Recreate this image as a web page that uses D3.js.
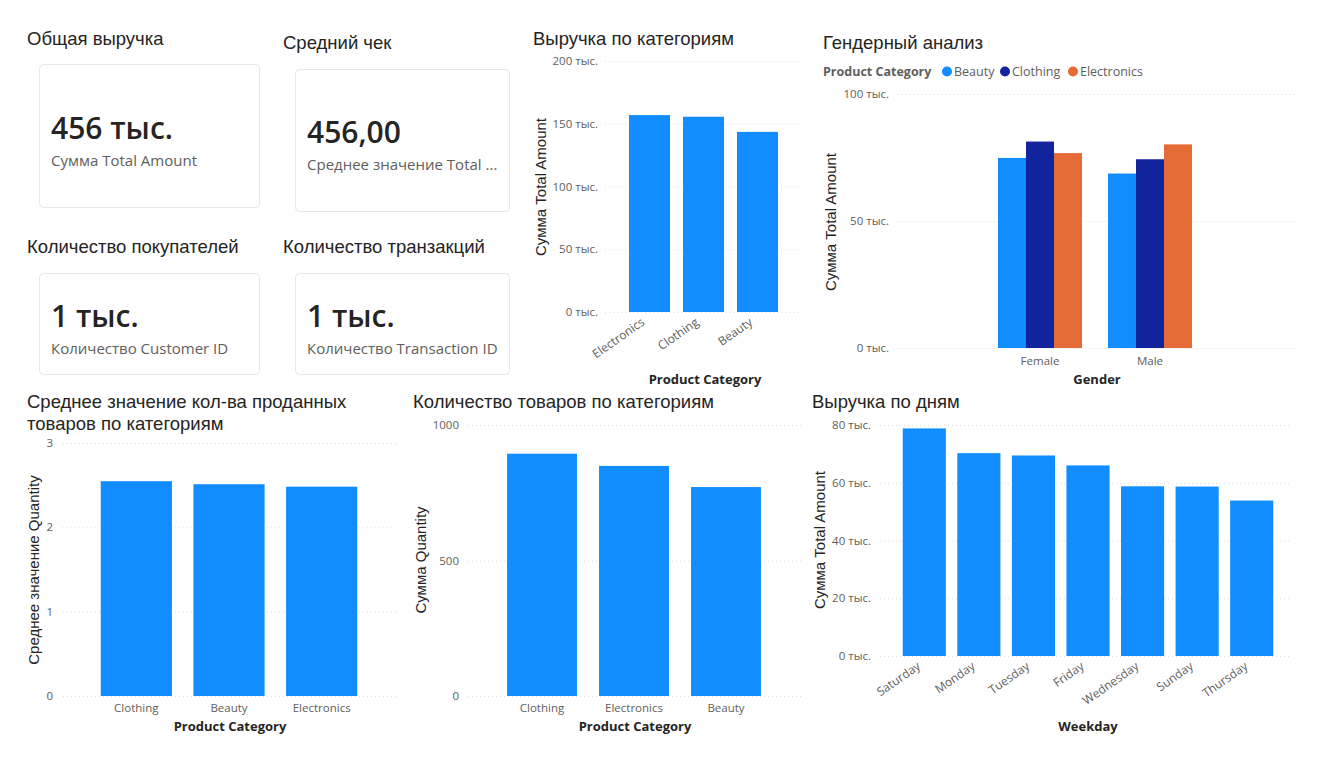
<!DOCTYPE html>
<html>
<head>
<meta charset="utf-8">
<script src="https://cdn.jsdelivr.net/npm/d3@7"></script>
<style>
  body { margin: 0; background: #fff; }
  svg { display: block; }
  .title { font-family: "Liberation Sans", Arial, sans-serif; font-size: 18.5px; fill: #252423; }
  .tick-lbl { font-family: "Open Sans", sans-serif; font-size: 11.5px; fill: #605e5c; }
  .ytitle { font-family: "Liberation Sans", Arial, sans-serif; font-size: 15px; fill: #252423; }
  .xtitle { font-family: "Open Sans", sans-serif; font-size: 13px; font-weight: 700; fill: #252423; }
</style>
</head>
<body>
<div id="scene"></div>
<script>
// ---- data ----
const cards = [
  { title: "Общая выручка", value: "456 тыс.", label: "Сумма Total Amount" },
  { title: "Средний чек", value: "456,00", label: "Среднее значение Total ..." },
  { title: "Количество покупателей", value: "1 тыс.", label: "Количество Customer ID" },
  { title: "Количество транзакций", value: "1 тыс.", label: "Количество Transaction ID" }
];

const revCategories = ["Electronics", "Clothing", "Beauty"];
const revValues = [156905, 155580, 143515];

const genders = ["Female", "Male"];
const genderSeries = ["Beauty", "Clothing", "Electronics"];
const genderValues = {
  Female: [74830, 81275, 76735],
  Male: [68685, 74305, 80170]
};
const seriesColors = ["#118DFF", "#12239E", "#E66C37"];

const avgQtyCategories = ["Clothing", "Beauty", "Electronics"];
const avgQtyValues = [2.547, 2.511, 2.482];

const qtyCategories = ["Clothing", "Electronics", "Beauty"];
const qtyValues = [894, 849, 771];

const weekdays = ["Saturday", "Monday", "Tuesday", "Friday", "Wednesday", "Sunday", "Thursday"];
const weekdayValues = [78815, 70250, 69440, 66010, 58770, 58680, 53835];

const thFmt = d => (d / 1000) + " тыс.";

const svg = d3.select("#scene").append("svg")
  .attr("width", 1319)
  .attr("height", 758);

// ---- cards ----
const cardBoxes = [
  { tx: 27, ty: 45, x: 39, y: 64, w: 220, h: 143, vy: 139, ly: 166 },
  { tx: 283, ty: 49, x: 295, y: 69, w: 214, h: 142, vy: 143, ly: 170 },
  { tx: 27, ty: 253, x: 39, y: 273, w: 220, h: 101, vy: 327, ly: 354 },
  { tx: 283, ty: 253, x: 295, y: 273, w: 214, h: 101, vy: 327, ly: 354 }
];

cards.forEach((c, i) => {
  const b = cardBoxes[i];
  svg.append("text").attr("class", "title").attr("x", b.tx).attr("y", b.ty).text(c.title);
  svg.append("rect")
    .attr("x", b.x + 0.5).attr("y", b.y + 0.5)
    .attr("width", b.w).attr("height", b.h)
    .attr("rx", 4)
    .style("fill", "#fff")
    .style("stroke", "#e6e6e6");
  svg.append("text")
    .attr("x", b.x + 12).attr("y", b.vy)
    .style("font-family", "'Open Sans', sans-serif")
    .style("font-weight", 600)
    .style("font-size", "30px")
    .style("fill", "#252423")
    .text(c.value);
  svg.append("text")
    .attr("x", b.x + 12).attr("y", b.ly)
    .style("font-family", "'Open Sans', sans-serif")
    .style("font-size", "15px")
    .style("fill", "#605e5c")
    .text(c.label);
});

// ---- generic bar chart ----
function barChart(cfg) {
  const g = svg.append("g");
  const x = d3.scaleBand().domain(cfg.cats).range(cfg.xRange)
    .paddingInner(cfg.pad).paddingOuter(cfg.pad / 2);
  const y = d3.scaleLinear().domain(cfg.yDomain).range(cfg.yRange);

  // title
  cfg.title.forEach((t, i) => {
    g.append("text").attr("class", "title")
      .attr("x", cfg.titleX).attr("y", cfg.titleY + i * 22).text(t);
  });

  // gridlines + tick labels
  cfg.ticks.forEach(t => {
    g.append("line")
      .attr("x1", cfg.gridX[0]).attr("x2", cfg.gridX[1])
      .attr("y1", y(t) + 0.5).attr("y2", y(t) + 0.5)
      .style("stroke", "#dcdcdc")
      .style("stroke-dasharray", "1,3");
    g.append("text").attr("class", "tick-lbl")
      .attr("x", cfg.tickX).attr("y", y(t) + 4)
      .style("text-anchor", "end")
      .text(cfg.fmt(t));
  });

  // bars
  if (cfg.series) {
    const xs = d3.scaleBand().domain(cfg.series).range([0, x.bandwidth()]);
    cfg.cats.forEach(c => {
      g.selectAll(null)
        .data(cfg.vals[c])
        .enter().append("rect")
        .attr("x", (d, i) => x(c) + xs(cfg.series[i]))
        .attr("y", d => y(d))
        .attr("width", xs.bandwidth())
        .attr("height", d => y(0) - y(d))
        .style("fill", (d, i) => cfg.colors[i]);
    });
  } else {
    g.selectAll(null)
      .data(cfg.vals)
      .enter().append("rect")
      .attr("x", (d, i) => x(cfg.cats[i]))
      .attr("y", d => y(d))
      .attr("width", x.bandwidth())
      .attr("height", d => y(0) - y(d))
      .style("fill", "#118DFF");
  }

  // category labels
  cfg.cats.forEach(c => {
    const cx = x(c) + x.bandwidth() / 2;
    if (cfg.rotate) {
      g.append("text").attr("class", "tick-lbl")
        .attr("transform", `translate(${cx + cfg.rotDx},${y(0) + 12}) rotate(-35)`)
        .style("text-anchor", "end")
        .style("font-size", "12px")
        .text(c);
    } else {
      g.append("text").attr("class", "tick-lbl")
        .attr("x", cx).attr("y", cfg.catY)
        .style("text-anchor", "middle")
        .text(c);
    }
  });

  // axis titles
  g.append("text").attr("class", "ytitle")
    .attr("transform", `translate(${cfg.yTitleX},${cfg.yTitleY}) rotate(-90)`)
    .style("text-anchor", "middle")
    .text(cfg.yTitle);
  g.append("text").attr("class", "xtitle")
    .attr("x", cfg.xTitleX).attr("y", cfg.xTitleY)
    .style("text-anchor", "middle")
    .text(cfg.xTitle);
  return g;
}

barChart({
  title: ["Выручка по категориям"], titleX: 533, titleY: 45,
  cats: revCategories, vals: revValues,
  xRange: [622.5, 784.5], pad: 0.24,
  yDomain: [0, 200000], yRange: [312, 61],
  ticks: [0, 50000, 100000, 150000, 200000], fmt: thFmt,
  gridX: [605, 800], tickX: 598,
  rotate: true, rotDx: -4,
  yTitle: "Сумма Total Amount", yTitleX: 546, yTitleY: 187,
  xTitle: "Product Category", xTitleX: 705, xTitleY: 384
});

const gGender = barChart({
  title: ["Гендерный анализ"], titleX: 823, titleY: 49,
  cats: genders, vals: genderValues, series: genderSeries, colors: seriesColors,
  xRange: [985, 1205], pad: 0.236,
  yDomain: [0, 100000], yRange: [348, 94],
  ticks: [0, 50000, 100000], fmt: thFmt,
  gridX: [897, 1295], tickX: 889,
  catY: 365,
  yTitle: "Сумма Total Amount", yTitleX: 836, yTitleY: 222,
  xTitle: "Gender", xTitleX: 1097, xTitleY: 384
});

// legend
gGender.append("text")
  .attr("x", 823).attr("y", 76)
  .style("font-family", "'Open Sans', sans-serif")
  .style("font-size", "12.5px").style("font-weight", 700)
  .style("fill", "#605e5c")
  .text("Product Category");
const legendX = [947, 1005, 1073];
genderSeries.forEach((s, i) => {
  gGender.append("circle")
    .attr("cx", legendX[i]).attr("cy", 71.5).attr("r", 5)
    .style("fill", seriesColors[i]);
  gGender.append("text")
    .attr("x", legendX[i] + 7).attr("y", 76)
    .style("font-family", "'Open Sans', sans-serif")
    .style("font-size", "12.5px")
    .style("fill", "#605e5c")
    .text(s);
});

barChart({
  title: ["Среднее значение кол-ва проданных", "товаров по категориям"], titleX: 27, titleY: 408,
  cats: avgQtyCategories, vals: avgQtyValues,
  xRange: [90, 368], pad: 0.232,
  yDomain: [0, 3], yRange: [696, 443],
  ticks: [0, 1, 2, 3], fmt: d => d,
  gridX: [63, 397], tickX: 53,
  catY: 712,
  yTitle: "Среднее значение Quantity", yTitleX: 39, yTitleY: 570,
  xTitle: "Product Category", xTitleX: 230, xTitleY: 731
});

barChart({
  title: ["Количество товаров по категориям"], titleX: 413, titleY: 408,
  cats: qtyCategories, vals: qtyValues,
  xRange: [496, 772], pad: 0.24,
  yDomain: [0, 1000], yRange: [696, 425],
  ticks: [0, 500, 1000], fmt: d => d,
  gridX: [468, 803], tickX: 459,
  catY: 712,
  yTitle: "Сумма Quantity", yTitleX: 426, yTitleY: 560,
  xTitle: "Product Category", xTitleX: 635, xTitleY: 731
});

barChart({
  title: ["Выручка по дням"], titleX: 812, titleY: 408,
  cats: weekdays, vals: weekdayValues,
  xRange: [897, 1279], pad: 0.21,
  yDomain: [0, 80000], yRange: [656, 425],
  ticks: [0, 20000, 40000, 60000, 80000], fmt: thFmt,
  gridX: [880, 1292], tickX: 871,
  rotate: true, rotDx: -3,
  yTitle: "Сумма Total Amount", yTitleX: 825, yTitleY: 540,
  xTitle: "Weekday", xTitleX: 1088, xTitleY: 731
});
</script>
</body>
</html>
